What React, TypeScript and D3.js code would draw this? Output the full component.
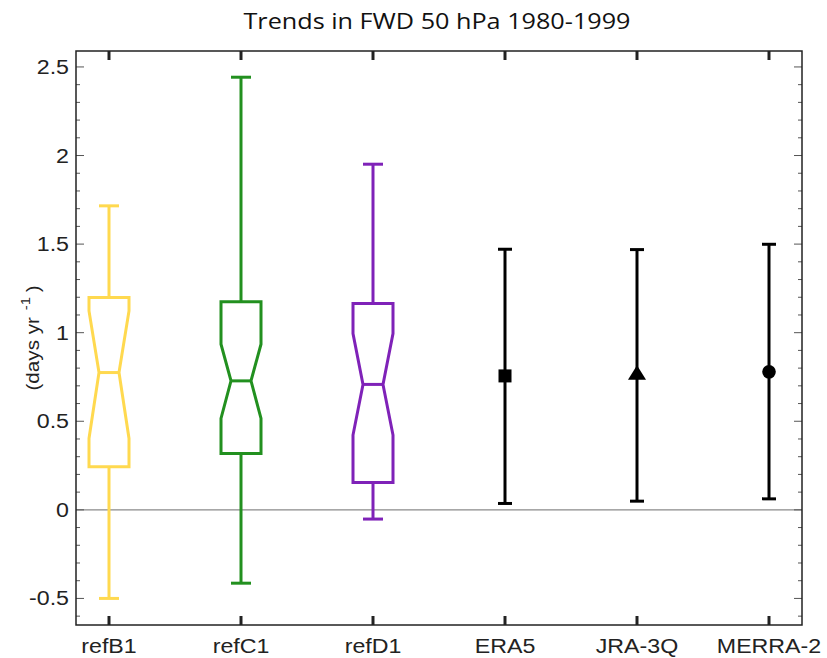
import React from "react";
import * as d3 from "d3";

const categories = ["refB1", "refC1", "refD1", "ERA5", "JRA-3Q", "MERRA-2"];
const boxNames = ["refB1", "refC1", "refD1"];
const boxColors = ["#FFD94F", "#22901F", "#7F22B8"];
const whiskerLow = [-0.5, -0.414, -0.052];
const q1 = [0.243, 0.318, 0.155];
const notchLow = [0.403, 0.516, 0.422];
const medians = [0.775, 0.728, 0.708];
const notchHigh = [1.123, 0.935, 0.995];
const q3 = [1.199, 1.174, 1.165];
const whiskerHigh = [1.716, 2.442, 1.951];

const reNames = ["ERA5", "JRA-3Q", "MERRA-2"];
const reCenter = [0.756, 0.765, 0.779];
const reLow = [0.036, 0.049, 0.062];
const reHigh = [1.471, 1.469, 1.499];
const reMarkers = ["square", "triangle", "circle"];

const yMajorTicks = [-0.5, 0, 0.5, 1, 1.5, 2, 2.5];
const yMajorLabels = ["-0.5", "0", "0.5", "1", "1.5", "2", "2.5"];
const yMinorTicks = d3.range(-6, 26).map((d) => d / 10);

export default function App() {
  const W = 827, H = 658;
  const left = 76, right = 802, top = 51, bottom = 625;
  const x = d3.scaleLinear().domain([0.75, 6.25]).range([left, right]);
  const y = d3.scaleLinear().domain([-0.65, 2.59]).range([bottom, top]);
  const sans = "'Liberation Sans', Arial, Helvetica, sans-serif";
  const halfBox = 20;
  const notchIn = 10;
  const cap = 10;
  const sx = 1.16;

  return (
    <svg width={W} height={H} style={{ position: "absolute", left: 0, top: 0 }}>
      <rect x={0} y={0} width={W} height={H} fill="white" />
      <line x1={left} x2={right} y1={y(0)} y2={y(0)} stroke="#8a8a8a" strokeWidth={1.2} />
      {boxNames.map((n, i) => {
        const cx = x(categories.indexOf(n) + 1);
        const c = boxColors[i];
        const pts: [number, number][] = [
          [cx - halfBox, y(q3[i])],
          [cx + halfBox, y(q3[i])],
          [cx + halfBox, y(notchHigh[i])],
          [cx + halfBox - notchIn, y(medians[i])],
          [cx + halfBox, y(notchLow[i])],
          [cx + halfBox, y(q1[i])],
          [cx - halfBox, y(q1[i])],
          [cx - halfBox, y(notchLow[i])],
          [cx - halfBox + notchIn, y(medians[i])],
          [cx - halfBox, y(notchHigh[i])],
        ];
        const path = d3.line()(pts) + "Z";
        return (
          <g key={n} stroke={c} strokeWidth={3} fill="none">
            <line x1={cx} x2={cx} y1={y(q3[i])} y2={y(whiskerHigh[i])} />
            <line x1={cx} x2={cx} y1={y(q1[i])} y2={y(whiskerLow[i])} />
            <line x1={cx - cap} x2={cx + cap} y1={y(whiskerHigh[i])} y2={y(whiskerHigh[i])} />
            <line x1={cx - cap} x2={cx + cap} y1={y(whiskerLow[i])} y2={y(whiskerLow[i])} />
            <path d={path} strokeLinejoin="miter" />
            <line x1={cx - halfBox + notchIn} x2={cx + halfBox - notchIn} y1={y(medians[i])} y2={y(medians[i])} />
          </g>
        );
      })}
      {reNames.map((n, i) => {
        const cx = x(categories.indexOf(n) + 1);
        const cy = y(reCenter[i]);
        let marker: React.ReactNode = null;
        if (reMarkers[i] === "square") marker = <rect x={cx - 6.5} y={cy - 6.5} width={13} height={13} fill="black" />;
        else if (reMarkers[i] === "triangle")
          marker = <path d={`M${cx},${cy - 9}L${cx + 9},${cy + 5.5}L${cx - 9},${cy + 5.5}Z`} fill="black" />;
        else marker = <circle cx={cx} cy={cy} r={6.8} fill="black" />;
        return (
          <g key={n}>
            <g stroke="black" strokeWidth={3}>
              <line x1={cx} x2={cx} y1={y(reLow[i])} y2={y(reHigh[i])} />
              <line x1={cx - 7} x2={cx + 7} y1={y(reLow[i])} y2={y(reLow[i])} />
              <line x1={cx - 7} x2={cx + 7} y1={y(reHigh[i])} y2={y(reHigh[i])} />
            </g>
            {marker}
          </g>
        );
      })}
      {yMinorTicks.map((t) => {
        const isMajor = yMajorTicks.some((m) => Math.abs(m - t) < 1e-6);
        const len = isMajor ? 8 : 4;
        return (
          <g key={t} stroke="#555" strokeWidth={1}>
            <line x1={left} x2={left + len} y1={y(t)} y2={y(t)} />
            <line x1={right - len} x2={right} y1={y(t)} y2={y(t)} />
          </g>
        );
      })}
      {yMajorTicks.map((t, i) => (
        <text key={t} transform={`translate(69,${y(t)}) scale(${sx},1)`} dy="0.35em" textAnchor="end" fontFamily={sans} fontSize={20} fill="#222">
          {yMajorLabels[i]}
        </text>
      ))}
      {categories.map((c, i) => (
        <g key={c}>
          <line x1={x(i + 1)} x2={x(i + 1)} y1={top} y2={top + 9} stroke="#222" strokeWidth={3} />
          <line x1={x(i + 1)} x2={x(i + 1)} y1={bottom - 9} y2={bottom} stroke="#222" strokeWidth={3} />
          <text transform={`translate(${x(i + 1)},653) scale(${sx},1)`} textAnchor="middle" fontFamily={sans} fontSize={20} fill="#222">
            {c}
          </text>
        </g>
      ))}
      <rect x={left} y={top} width={right - left} height={bottom - top} fill="none" stroke="#222" strokeWidth={1.5} />
      <text transform={`translate(39,338) rotate(-90) scale(1.15,1)`} textAnchor="middle" fontFamily={sans} fontSize={18} fill="#222">
        (days yr
        <tspan fontSize={13} dx={6} dy={-9}>-1</tspan>
        <tspan dx={4} dy={9}>)</tspan>
      </text>
      <text transform={`translate(437,29) scale(1.2,1)`} textAnchor="middle" fontFamily="'Open Sans', 'Noto Sans', sans-serif" fontSize={21} fill="#111">
        Trends in FWD 50 hPa 1980-1999
      </text>
    </svg>
  );
}
